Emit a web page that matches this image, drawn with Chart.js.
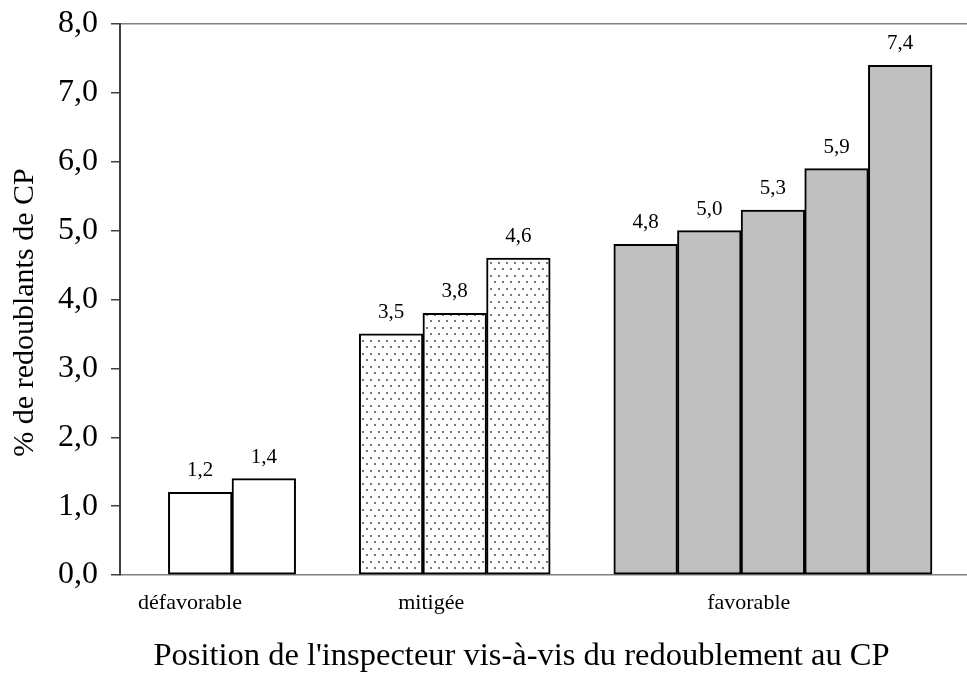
<!DOCTYPE html>
<html>
<head>
<meta charset="utf-8">
<script src="https://cdn.jsdelivr.net/npm/chart.js@4"></script>
<style>
  html, body { margin: 0; padding: 0; background: #fff; }
  #wrap { width: 967px; height: 675px; }
</style>
</head>
<body>
<div id="wrap"><canvas id="c"></canvas></div>
<script>
// ── Data ──
const groupNames = ['défavorable', 'mitigée', 'favorable'];
const groupTickPos = [-0.16, 3.63, 8.62];
const slots  = [0, 1, 3, 4, 5, 7, 8, 9, 10, 11];
const values = [1.2, 1.4, 3.5, 3.8, 4.6, 4.8, 5.0, 5.3, 5.9, 7.4];
const barGroup = [0, 0, 1, 1, 1, 2, 2, 2, 2, 2];
const yTitle = '% de redoublants de CP';
const xTitle = "Position de l'inspecteur vis-à-vis du redoublement au CP";

const serif = "'Liberation Serif', 'Times New Roman', serif";
const fmt = v => v.toFixed(1).replace('.', ',');

// ── Dotted fill ──
function dotPattern() {
  const p = document.createElement('canvas');
  p.width = 8; p.height = 13;
  const g = p.getContext('2d');
  g.fillStyle = '#fff'; g.fillRect(0, 0, 8, 13);
  g.fillStyle = '#777';
  g.fillRect(2, 2, 2, 2);
  g.fillRect(6, 8, 2, 2);
  return g.createPattern(p, 'repeat');
}
const ctx = document.getElementById('c').getContext('2d');
const fills = ['#ffffff', dotPattern(), '#c0c0c0'];

// ── Value labels + axis titles ──
const valueLabels = {
  id: 'valueLabels',
  afterDatasetsDraw(chart) {
    const c = chart.ctx;
    c.save();
    c.font = '21px ' + serif;
    c.fillStyle = '#000';
    c.textAlign = 'center';
    c.textBaseline = 'bottom';
    chart.getDatasetMeta(0).data.forEach((bar, i) => c.fillText(fmt(values[i]), bar.x, bar.y - 11));
    c.restore();
  }
};

const axisTitles = {
  id: 'axisTitles',
  afterDraw(chart) {
    const c = chart.ctx, a = chart.chartArea;
    c.save();
    c.fillStyle = '#000';
    c.textAlign = 'center';
    c.textBaseline = 'middle';
    c.font = '32.5px ' + serif;
    c.fillText(xTitle, (a.left + a.right) / 2 - 22, chart.height - 19);
    c.translate(25, (a.top + a.bottom) / 2 + 13);
    c.rotate(-Math.PI / 2);
    c.font = '30px ' + serif;
    c.fillText(yTitle, 0, 0);
    c.restore();
  }
};

new Chart(ctx, {
  type: 'bar',
  data: {
    datasets: [{
      data: slots.map((s, i) => ({ x: s, y: values[i] })),
      backgroundColor: barGroup.map(g => fills[g]),
      borderColor: '#000',
      borderWidth: 2,
      borderSkipped: false,
      barPercentage: 1,
      categoryPercentage: 1
    }]
  },
  options: {
    responsive: true, maintainAspectRatio: false, animation: false,
    layout: { padding: 0 },
    plugins: { legend: { display: false }, tooltip: { enabled: false } },
    scales: {
      x: {
        type: 'linear', min: -1.26, max: 12.05, offset: false,
        afterBuildTicks: s => { s.ticks = groupTickPos.map(v => ({ value: v })); },
        afterFit: s => { s.height = 100; },
        ticks: { autoSkip: false, maxRotation: 0, padding: 7, color: '#000', font: { family: serif, size: 22 },
                 callback: (v, i) => groupNames[i] },
        grid: { display: false },
        border: { color: '#808080', width: 1.5 }
      },
      y: {
        min: 0, max: 8,
        afterFit: s => { s.width = 120; s.paddingTop = 24; s.paddingBottom = 0; },
        ticks: { stepSize: 1, padding: 13, color: '#000', font: { family: serif, size: 32 }, callback: v => fmt(v) },
        grid: { color: c => c.tick.value === 8 ? '#808080' : 'rgba(0,0,0,0)', tickColor: '#404040', tickLength: 9, lineWidth: 1.5 },
        border: { color: '#404040', width: 2 }
      }
    }
  },
  plugins: [valueLabels, axisTitles]
});
</script>
</body>
</html>
